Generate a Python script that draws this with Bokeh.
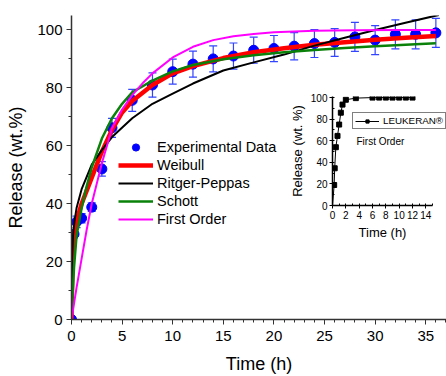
from bokeh.plotting import figure
from bokeh.models import (Range1d, SingleIntervalTicker, Legend, LegendItem,
                          ColumnDataSource, Whisker, TeeHead, Label)
from bokeh.embed import file_html
from bokeh.resources import INLINE

FONT = "Liberation Sans"

# ---------------- main chart data ----------------
exp_t = [0, 0.25, 0.5, 1, 2, 3, 4, 6, 8, 10, 12, 14, 16, 18, 20, 22, 24, 26, 28, 30, 32, 34, 36]
exp_y = [0, 29.5, 33.7, 35, 38.8, 52, 66.2, 75.7, 81, 85.6, 88.2, 90, 91, 93, 93.6, 94.4, 95.3, 95.7, 97.6, 96.5, 98.5, 98.5, 99]
exp_err = [0, 1.3, 2, 1.6, 1.5, 2.5, 3.3, 3.8, 4.2, 4.3, 4.5, 4.5, 4.5, 4.5, 4.5, 4.7, 4.8, 4.8, 5, 5, 5, 5, 5]

weib_t = [0, 0.1, 0.25, 0.5, 1, 1.5, 2, 3, 4, 5, 6, 8, 10, 12, 15, 18, 21, 24, 27, 30, 33, 36]
weib_y = [0, 20, 29, 34, 40, 44.5, 49, 58, 65.5, 71.5, 75.5, 81, 85, 87.5, 90.3, 92.3, 93.7, 94.9, 95.8, 96.6, 97.3, 97.9]

rp_t = [0, 0.05, 0.15, 0.3, 0.5, 1, 2, 3, 4, 6, 8, 10, 12, 15, 18, 21, 24, 27, 30, 33, 36.3]
rp_y = [0, 20, 29, 34, 38.5, 45, 53.5, 58.5, 63, 69.5, 74.5, 78, 81.5, 86, 88.8, 91.5, 94.6, 97.3, 100, 102.5, 105.2]

sch_t = [0, 0.1, 0.25, 0.5, 1, 1.5, 2, 3, 4, 5, 6, 8, 10, 12, 15, 18, 21, 24, 27, 30, 33, 36]
sch_y = [0, 8, 18, 29, 38.5, 46, 52.5, 62.5, 69.5, 74.5, 78.5, 82.5, 85.7, 87.9, 89.9, 91.3, 92.3, 93.1, 93.8, 94.4, 94.9, 95.4]

fo_t = [0, 0.5, 1, 1.5, 2, 3, 4, 5, 6, 7, 8, 10, 12, 14, 16, 18, 20, 24, 28, 32, 36]
fo_y = [0, 11, 21, 31, 40, 54, 66, 72.5, 77.5, 81.5, 85, 90.5, 94.2, 96.5, 97.8, 98.6, 99.2, 99.7, 99.9, 100, 100]

# ---------------- inset data ----------------
ins_t = [0, 0.25, 0.33, 0.5, 0.75, 1, 1.25, 1.5, 2, 3.5, 6, 7, 8, 9, 10, 11, 12]
ins_y = [0, 19, 34.5, 54, 64.5, 75, 86, 93.5, 98, 99.5, 100, 100, 100, 100, 100, 100, 100]

# ---------------- main figure ----------------
p = figure(width=446, height=376, output_backend="svg", toolbar_location=None,
           x_range=Range1d(0, 37.05), y_range=Range1d(0, 105),
           min_border_left=71, min_border_right=0, min_border_top=15, min_border_bottom=55,
           outline_line_color=None)
p.xgrid.visible = False
p.ygrid.visible = False
# range used only to keep the legend-key copy of the inset series outside the main frame
p.extra_x_ranges = {"key": Range1d(1000, 1001)}

p.xaxis.ticker = SingleIntervalTicker(interval=5, num_minor_ticks=5)
p.yaxis.ticker = SingleIntervalTicker(interval=20, num_minor_ticks=2)
for ax in (p.xaxis[0], p.yaxis[0]):
    ax.axis_line_color = "#333333"
    ax.axis_line_width = 1.5
    ax.major_tick_line_color = "#333333"
    ax.minor_tick_line_color = "#333333"
    ax.major_tick_out = 5
    ax.major_tick_in = 0
    ax.minor_tick_out = 3
    ax.minor_tick_in = 0
    ax.major_label_text_font = FONT
    ax.major_label_text_font_size = "15px"
    ax.major_label_text_color = "black"
    ax.axis_label_text_font = FONT
    ax.axis_label_text_font_size = "18px"
    ax.axis_label_text_font_style = "normal"
    ax.axis_label_text_color = "black"
p.xaxis.axis_label = "Time (h)"
p.yaxis.axis_label = "Release (wt.%)"
p.xaxis.major_label_standoff = 6
p.yaxis.major_label_standoff = 4
p.xaxis.axis_label_standoff = 10
p.yaxis.axis_label_standoff = 8

src = ColumnDataSource(dict(t=exp_t, y=exp_y,
                            lo=[a - b for a, b in zip(exp_y, exp_err)],
                            hi=[a + b for a, b in zip(exp_y, exp_err)]))
wh = Whisker(source=src, base="t", lower="lo", upper="hi",
             line_color="#3344ff", line_width=1.2,
             upper_head=TeeHead(size=8, line_color="#3344ff", line_width=1.2),
             lower_head=TeeHead(size=8, line_color="#3344ff", line_width=1.2))
p.add_layout(wh)
r_exp = p.scatter("t", "y", source=src, size=10, color="#0000ff", marker="circle")

r_w = p.line(weib_t, weib_y, line_color="#ff0000", line_width=4.5)
r_rp = p.line(rp_t, rp_y, line_color="black", line_width=2)
r_s = p.line(sch_t, sch_y, line_color="#0a820a", line_width=2.5)
r_fo = p.line(fo_t, fo_y, line_color="#ff00ff", line_width=2)

legend = Legend(items=[
    LegendItem(label="Experimental Data", renderers=[r_exp]),
    LegendItem(label="Weibull", renderers=[r_w]),
    LegendItem(label="Ritger-Peppas", renderers=[r_rp]),
    LegendItem(label="Schott", renderers=[r_s]),
    LegendItem(label="First Order", renderers=[r_fo]),
], location=(47, 91), padding=0, spacing=0, margin=0, label_standoff=4,
    glyph_width=35, glyph_height=18, label_height=18,
    label_text_font=FONT, label_text_font_size="14.5px", label_text_color="black",
    background_fill_alpha=0, border_line_alpha=0)
p.add_layout(legend, "center")

# legend of the inset series (drawn in the main frame so it may run past the inset)
k_line = p.line(ins_t, ins_y, line_color="black", line_width=1, x_range_name="key")
k_sq = p.scatter(ins_t, ins_y, marker="square", size=5, color="black", x_range_name="key")
ileg = Legend(items=[LegendItem(label="LEUKERAN®", renderers=[k_line, k_sq])],
              location=(281, 190), padding=2, spacing=0, margin=0, label_standoff=4,
              glyph_width=24, glyph_height=8, label_height=8,
              label_text_font=FONT, label_text_font_size="9.8px", label_text_color="black",
              border_line_color="black", border_line_width=1, background_fill_alpha=0)
p.add_layout(ileg, "center")

# ---------------- inset figure ----------------
q = figure(width=160, height=152, output_backend="svg", toolbar_location=None,
           x_range=Range1d(0, 15), y_range=Range1d(0, 101),
           min_border_left=44, min_border_right=14, min_border_top=6, min_border_bottom=35,
           outline_line_color=None, background_fill_alpha=0, border_fill_alpha=0)
q.xgrid.visible = False
q.ygrid.visible = False
q.xaxis.ticker = SingleIntervalTicker(interval=2, num_minor_ticks=2)
q.yaxis.ticker = SingleIntervalTicker(interval=20, num_minor_ticks=2)
for ax in (q.xaxis[0], q.yaxis[0]):
    ax.axis_line_color = "black"
    ax.axis_line_width = 1.5
    ax.major_tick_out = 3
    ax.major_tick_in = 0
    ax.minor_tick_out = 0
    ax.minor_tick_in = 2
    ax.major_label_text_font = FONT
    ax.major_label_text_font_size = "10px"
    ax.major_label_text_color = "black"
    ax.major_label_standoff = 2
    ax.axis_label_text_font = FONT
    ax.axis_label_text_font_size = "13px"
    ax.axis_label_text_font_style = "normal"
    ax.axis_label_text_color = "black"
    ax.axis_label_standoff = 3
q.xaxis.axis_label = "Time (h)"
q.yaxis.axis_label = "Release (wt. %)"

r_il = q.line(ins_t, ins_y, line_color="black", line_width=1)
r_is = q.scatter(ins_t[1:], ins_y[1:], marker="square", size=5, color="black")
q.add_layout(Label(x=24, y=64, x_units="screen", y_units="screen", text="First Order",
                   text_font=FONT, text_font_size="10px", text_baseline="middle",
                   text_color="black"))

q.styles = {"position": "absolute", "left": "286px", "top": "90px", "z-index": "5"}

open("out.html", "w").write(file_html([p, q], INLINE))
